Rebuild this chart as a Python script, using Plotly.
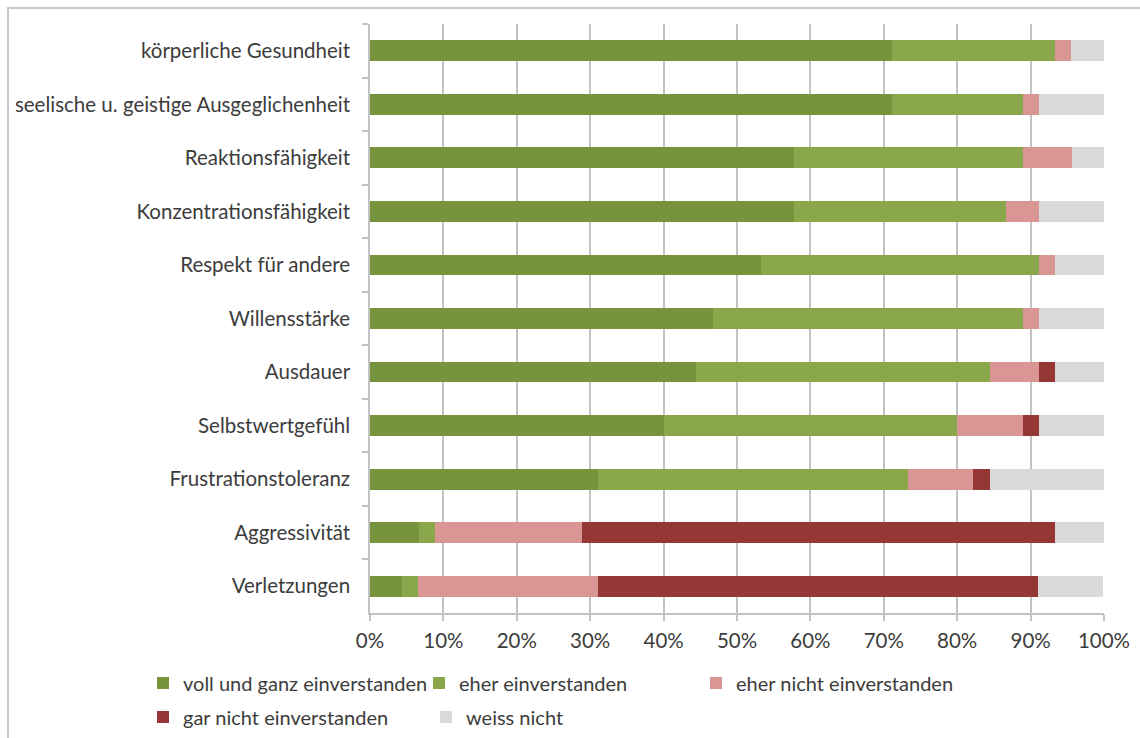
import plotly.graph_objects as go

# Aussagen (von oben nach unten)
categories = [
    "körperliche Gesundheit",
    "seelische u. geistige Ausgeglichenheit",
    "Reaktionsfähigkeit",
    "Konzentrationsfähigkeit",
    "Respekt für andere",
    "Willensstärke",
    "Ausdauer",
    "Selbstwertgefühl",
    "Frustrationstoleranz",
    "Aggressivität",
    "Verletzungen",
]

# Anteile in Prozent je Antwortkategorie
voll_und_ganz = [71.1, 71.1, 57.8, 57.8, 53.3, 46.7, 44.4, 40.0, 31.1, 6.7, 4.4]
eher = [22.2, 17.8, 31.1, 28.9, 37.8, 42.2, 40.0, 40.0, 42.2, 2.2, 2.2]
eher_nicht = [2.2, 2.2, 6.7, 4.4, 2.2, 2.2, 6.7, 8.9, 8.9, 20.0, 24.4]
gar_nicht = [0.0, 0.0, 0.0, 0.0, 0.0, 0.0, 2.2, 2.2, 2.2, 64.4, 60.0]
weiss_nicht = [4.5, 8.9, 4.4, 8.9, 6.7, 8.9, 6.7, 8.9, 15.6, 6.7, 8.9]

x_ticks = [0, 10, 20, 30, 40, 50, 60, 70, 80, 90, 100]
x_tick_labels = [f"{v}%" for v in x_ticks]

series = [
    ("voll und ganz einverstanden", voll_und_ganz, "#77933C", "legend"),
    ("eher einverstanden", eher, "#8BA74C", "legend"),
    ("eher nicht einverstanden", eher_nicht, "#D99694", "legend2"),
    ("gar nicht einverstanden", gar_nicht, "#953735", "legend3"),
    ("weiss nicht", weiss_nicht, "#D9D9D9", "legend3"),
]

FONT = "Lato"
FS = 20.5
LEG_FS = 20
TEXT = "#3C3C3C"
GRID = "#C3C3C3"

fig = go.Figure()
for name, vals, color, leg in series:
    fig.add_trace(go.Bar(
        y=categories, x=vals, name=name, orientation="h",
        marker=dict(color=color, line=dict(width=0)),
        legend=leg,
    ))

W, H = 1140, 738
L, R, T, B = 370, 36, 24, 125
pw, ph = W - L - R, H - T - B


def px_x(p):
    return (p - L) / pw


def px_y(p):
    return (H - B - p) / ph


legend_common = dict(
    orientation="h", yanchor="middle", xanchor="left",
    font=dict(family=FONT, size=LEG_FS, color=TEXT),
    bgcolor="rgba(0,0,0,0)", borderwidth=0,
    traceorder="normal", itemclick=False,
)

fig.update_layout(
    width=W, height=H,
    margin=dict(l=L, r=R, t=T, b=B, autoexpand=False),
    barmode="stack",
    bargap=0.61,
    plot_bgcolor="white",
    paper_bgcolor="white",
    font=dict(family=FONT, size=FS, color=TEXT),
    xaxis=dict(
        range=[0, 100], tickvals=x_ticks, ticktext=x_tick_labels,
        showgrid=True, gridcolor=GRID, gridwidth=1.5,
        showline=True, linecolor=GRID, linewidth=1.5,
        ticks="outside", ticklen=6, tickcolor=GRID, tickwidth=1.5,
        zeroline=False, fixedrange=True, automargin=False,
        ticklabelstandoff=3,
    ),
    yaxis=dict(
        categoryorder="array", categoryarray=categories,
        autorange="reversed",
        showgrid=False, zeroline=False,
        showline=True, linecolor=GRID, linewidth=1.5,
        ticks="outside", ticklen=6, tickcolor=GRID, tickwidth=1.5,
        tickson="boundaries", automargin=False,
        ticklabelstandoff=14,
        fixedrange=True,
    ),
    legend=dict(x=px_x(143), y=px_y(683), entrywidth=231,
                entrywidthmode="pixels", **legend_common),
    legend2=dict(x=px_x(696), y=px_y(683), **legend_common),
    legend3=dict(x=px_x(143), y=px_y(717), entrywidth=238,
                 entrywidthmode="pixels", **legend_common),
    shapes=[dict(
        type="rect", xref="paper", yref="paper",
        x0=px_x(8), x1=px_x(1150), y0=px_y(760), y1=px_y(8),
        line=dict(color="#C8C8C8", width=2), fillcolor="rgba(0,0,0,0)",
        layer="below",
    )],
)

fig.write_html("out.html")
